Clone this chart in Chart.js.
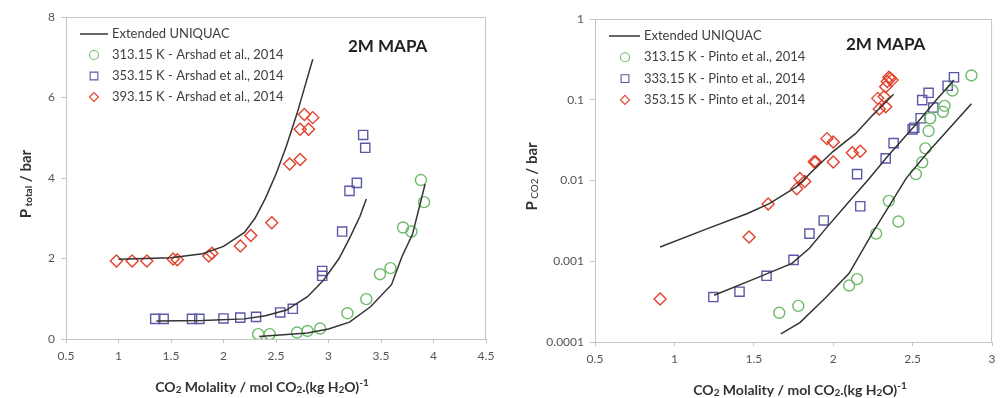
<!DOCTYPE html>
<html>
<head>
<meta charset="utf-8">
<script src="https://cdn.jsdelivr.net/npm/chart.js@4.4.0/dist/chart.umd.min.js"></script>
<style>
  html, body { margin: 0; padding: 0; background: #fff; }
  #wrap { display: flex; width: 1000px; height: 398px; }
  .box { width: 500px; height: 398px; }
</style>
</head>
<body>
<div id="wrap">
  <div class="box"><canvas id="left" width="500" height="398"></canvas></div>
  <div class="box"><canvas id="right" width="500" height="398"></canvas></div>
</div>
<script>
// ---- left panel: total pressure (Arshad et al., 2014) ----
const arshad313x = [2.33, 2.44, 2.70, 2.80, 2.92, 3.18, 3.36, 3.49, 3.59, 3.71, 3.79, 3.91, 3.88];
const arshad313p = [0.12, 0.12, 0.16, 0.20, 0.26, 0.64, 0.99, 1.61, 1.76, 2.77, 2.67, 3.40, 3.95];
const arshad353x = [1.35, 1.43, 1.70, 1.77, 2.00, 2.16, 2.31, 2.54, 2.66, 2.94, 2.94, 3.13, 3.20, 3.27, 3.33, 3.35];
const arshad353p = [0.50, 0.50, 0.50, 0.50, 0.51, 0.53, 0.55, 0.66, 0.75, 1.57, 1.69, 2.67, 3.68, 3.88, 5.07, 4.75];
const arshad393x = [0.98, 1.13, 1.27, 1.52, 1.56, 1.86, 1.89, 2.16, 2.26, 2.46, 2.63, 2.73, 2.73, 2.81, 2.77, 2.85];
const arshad393p = [1.94, 1.94, 1.94, 1.99, 1.97, 2.06, 2.13, 2.31, 2.57, 2.89, 4.35, 4.46, 5.21, 5.21, 5.58, 5.50];

const uniqTot313x = [2.34, 2.8, 3.0, 3.2, 3.4, 3.6, 3.7, 3.8, 3.92];
const uniqTot313p = [0.06, 0.15, 0.25, 0.42, 0.8, 1.35, 2.05, 2.6, 3.85];
const uniqTot353x = [1.36, 1.8, 2.2, 2.4, 2.6, 2.8, 2.95, 3.1, 3.2, 3.3, 3.36];
const uniqTot353p = [0.45, 0.46, 0.5, 0.58, 0.72, 1.05, 1.45, 2.0, 2.5, 3.05, 3.48];
const uniqTot393x = [1.0, 1.5, 1.8, 2.0, 2.2, 2.3, 2.4, 2.5, 2.6, 2.7, 2.8, 2.85];
const uniqTot393p = [1.98, 2.02, 2.12, 2.3, 2.65, 3.0, 3.5, 4.1, 4.8, 5.6, 6.5, 6.95];

// ---- right panel: CO2 partial pressure (Pinto et al., 2014) ----
const pinto313x = [1.66, 1.78, 2.10, 2.15, 2.27, 2.35, 2.41, 2.52, 2.56, 2.58, 2.60, 2.61, 2.69, 2.70, 2.75, 2.87];
const pinto313p = [0.00023, 0.00028, 0.0005, 0.0006, 0.0022, 0.0056, 0.0031, 0.012, 0.0168, 0.025, 0.041, 0.059, 0.071, 0.084, 0.13, 0.20];
const pinto333x = [1.245, 1.41, 1.58, 1.75, 1.85, 1.94, 2.17, 2.15, 2.33, 2.38, 2.50, 2.51, 2.55, 2.56, 2.60, 2.63, 2.72, 2.76];
const pinto333p = [0.00036, 0.00042, 0.00066, 0.00104, 0.0022, 0.0032, 0.0048, 0.012, 0.0188, 0.029, 0.043, 0.045, 0.059, 0.099, 0.122, 0.080, 0.149, 0.19];
const pinto353x = [0.91, 1.47, 1.59, 1.77, 1.79, 1.82, 1.88, 1.89, 1.96, 2.0, 2.0, 2.12, 2.17, 2.29, 2.33, 2.28, 2.32, 2.33, 2.34, 2.36, 2.37, 2.35];
const pinto353p = [0.00034, 0.0020, 0.0051, 0.0079, 0.0106, 0.0097, 0.0171, 0.017, 0.033, 0.030, 0.017, 0.022, 0.023, 0.077, 0.082, 0.104, 0.11, 0.145, 0.168, 0.184, 0.175, 0.19];

const uniqCo2313x = [1.67, 1.79, 1.95, 2.1, 2.25, 2.46, 2.59, 2.87];
const uniqCo2313p = [0.000126, 0.000174, 0.00035, 0.00071, 0.0023, 0.0107, 0.0218, 0.089];
const uniqCo2333x = [1.25, 1.5, 1.74, 1.85, 1.95, 2.1, 2.22, 2.34, 2.51, 2.65, 2.76];
const uniqCo2333p = [0.00038, 0.0006, 0.00094, 0.00145, 0.0025, 0.0055, 0.0102, 0.0197, 0.047, 0.1, 0.176];
const uniqCo2353x = [0.91, 1.2, 1.46, 1.6, 1.77, 1.9, 2.0, 2.14, 2.25, 2.38];
const uniqCo2353p = [0.0015, 0.0025, 0.0039, 0.0052, 0.0084, 0.015, 0.023, 0.038, 0.065, 0.117];

const leftXTicks = [0.5, 1, 1.5, 2, 2.5, 3, 3.5, 4, 4.5];
const leftYTicks = [0, 2, 4, 6, 8];
const rightXTicks = [0.5, 1, 1.5, 2, 2.5, 3];
const rightYTicks = [0.0001, 0.001, 0.01, 0.1, 1];

const leftLabels = ["313.15 K - Arshad et al., 2014", "353.15 K - Arshad et al., 2014", "393.15 K - Arshad et al., 2014"];
const rightLabels = ["313.15 K - Pinto et al., 2014", "333.15 K - Pinto et al., 2014", "353.15 K - Pinto et al., 2014"];

const GREEN = "#6dbb6a";
const BLUE = "#5c5aa6";
const RED = "#e4402c";
const LINE = "#333333";
const AXIS = "#c4c4c4";
const FONT = "Lato, 'Open Sans', sans-serif";

const pts = (xs, ys) => xs.map((x, i) => ({ x: x, y: ys[i] }));

const marker = (label, xs, ys, color, style, radius) => ({
  label: label,
  data: pts(xs, ys),
  pointStyle: style,
  pointRadius: radius,
  pointBorderColor: color,
  pointBackgroundColor: "rgba(0,0,0,0)",
  pointBorderWidth: 1.4,
  showLine: false,
  order: 1,
});

const model = (xs, ys) => ({
  label: "Extended UNIQUAC",
  data: pts(xs, ys),
  showLine: true,
  borderColor: LINE,
  borderWidth: 1.5,
  pointRadius: 0,
  tension: 0,
  order: 0,
});

// draws a list of text runs (size, bold, dy) centred on (0,0)
function drawRuns(ctx, runs) {
  let total = 0;
  runs.forEach((r) => {
    ctx.font = (r.bold ? "bold " : "") + r.size + "px " + FONT;
    r.w = ctx.measureText(r.t).width;
    total += r.w;
  });
  let x = -total / 2;
  ctx.textBaseline = "middle";
  ctx.textAlign = "left";
  runs.forEach((r) => {
    ctx.font = (r.bold ? "bold " : "") + r.size + "px " + FONT;
    ctx.fillText(r.t, x, r.dy || 0);
    x += r.w;
  });
}

const xTitleRuns = () => [
  { t: "CO", size: 14, bold: true },
  { t: "2", size: 10, bold: true, dy: 3 },
  { t: " Molality / mol CO", size: 14, bold: true },
  { t: "2", size: 10, bold: true, dy: 3 },
  { t: ".(kg H", size: 14, bold: true },
  { t: "2", size: 10, bold: true, dy: 3 },
  { t: "O)", size: 14, bold: true },
  { t: "-1", size: 10, bold: true, dy: -4 },
];

const decor = {
  id: "decor",
  beforeDatasetsDraw(chart) {
    const ctx = chart.ctx, a = chart.chartArea;
    ctx.save();
    ctx.strokeStyle = AXIS;
    ctx.lineWidth = 1;
    ctx.strokeRect(a.left + 0.5, a.top + 0.5, a.right - a.left - 1, a.bottom - a.top);
    ctx.restore();
  },
  afterDraw(chart, args, o) {
    const ctx = chart.ctx, a = chart.chartArea;
    ctx.save();

    // legend
    const lx = a.left + o.legendDx, ly = a.top + o.legendDy;
    ctx.strokeStyle = LINE;
    ctx.lineWidth = 1.5;
    ctx.beginPath();
    ctx.moveTo(lx, ly);
    ctx.lineTo(lx + o.lineLen, ly);
    ctx.stroke();
    ctx.font = "13px " + FONT;
    ctx.textBaseline = "middle";
    ctx.textAlign = "left";
    ctx.fillStyle = "#404040";
    ctx.fillText("Extended UNIQUAC", lx + o.lineLen + 4, ly);
    const marks = [[GREEN, "circle", 4.5], [BLUE, "rect", 5.5], [RED, "rectRot", 4.5]];
    o.labels.forEach((lab, i) => {
      const y = ly + (i + 1) * o.rowGap;
      ctx.save();
      ctx.strokeStyle = marks[i][0];
      ctx.fillStyle = "rgba(0,0,0,0)";
      ctx.lineWidth = 1.1;
      Chart.helpers.drawPoint(ctx, { pointStyle: marks[i][1], radius: marks[i][2], borderWidth: 1.1, rotation: 0 }, lx + o.markDx, y);
      ctx.restore();
      ctx.fillText(lab, lx + o.lineLen + 4, y);
    });

    // panel tag
    ctx.font = "bold 17px " + FONT;
    ctx.fillStyle = "#222";
    ctx.textAlign = "left";
    ctx.fillText("2M MAPA", o.tagX, o.tagY);

    // x title
    ctx.save();
    ctx.fillStyle = "#333";
    ctx.translate(o.xTitleX, o.xTitleY);
    drawRuns(ctx, xTitleRuns());
    ctx.restore();

    // y title
    ctx.save();
    ctx.fillStyle = "#333";
    ctx.translate(o.yTitleX, (a.top + a.bottom) / 2 + o.yTitleDy);
    ctx.rotate(-Math.PI / 2);
    drawRuns(ctx, o.yRuns);
    ctx.restore();

    ctx.restore();
  },
};

const tickFont = { family: FONT, size: 12 };

function makeChart(id, cfg) {
  return new Chart(document.getElementById(id), {
    type: "scatter",
    data: { datasets: cfg.datasets },
    options: {
      responsive: false,
      animation: false,
      devicePixelRatio: 1,
      layout: { padding: cfg.padding },
      plugins: { legend: { display: false }, tooltip: { enabled: false }, decor: cfg.decor },
      scales: {
        x: {
          type: "linear",
          min: cfg.xTicks[0],
          max: cfg.xTicks[cfg.xTicks.length - 1],
          afterBuildTicks: (s) => { s.ticks = cfg.xTicks.map((v) => ({ value: v })); },
          afterFit: (s) => { s.height = cfg.xHeight; s.paddingLeft = 0; s.paddingRight = 0; },
          ticks: { color: "#555", font: tickFont, padding: 6, maxRotation: 0, autoSkip: false, callback: (v) => String(v) },
          grid: { drawOnChartArea: false, color: AXIS, tickLength: 4 },
          border: { color: AXIS },
        },
        y: {
          type: cfg.yType,
          min: cfg.yTicks[0],
          max: cfg.yTicks[cfg.yTicks.length - 1],
          afterBuildTicks: (s) => { s.ticks = cfg.yTicks.map((v) => ({ value: v })); },
          afterFit: (s) => { s.width = cfg.yWidth; s.paddingTop = 0; s.paddingBottom = 0; },
          ticks: { color: "#555", font: tickFont, padding: 6, autoSkip: false, callback: (v) => String(v) },
          grid: { drawOnChartArea: false, color: AXIS, tickLength: 5 },
          border: { color: AXIS },
        },
      },
    },
    plugins: [decor],
  });
}

makeChart("left", {
  datasets: [
    model(uniqTot313x, uniqTot313p),
    model(uniqTot353x, uniqTot353p),
    model(uniqTot393x, uniqTot393p),
    marker(leftLabels[0], arshad313x, arshad313p, GREEN, "circle", 5.5),
    marker(leftLabels[1], arshad353x, arshad353p, BLUE, "rect", 6.5),
    marker(leftLabels[2], arshad393x, arshad393p, RED, "rectRot", 6),
  ],
  padding: { top: 17, right: 14, bottom: 0, left: 0 },
  xTicks: leftXTicks,
  yTicks: leftYTicks,
  yType: "linear",
  xHeight: 59,
  yWidth: 66,
  decor: {
    legendDx: 14, legendDy: 17, lineLen: 28, markDx: 14, rowGap: 21,
    labels: leftLabels,
    tagX: 348, tagY: 47,
    xTitleX: 262, xTitleY: 387,
    yTitleX: 26, yTitleDy: 6,
    yRuns: [
      { t: "P", size: 15, bold: true },
      { t: " total", size: 10, bold: true, dy: 3 },
      { t: " / bar", size: 15, bold: true },
    ],
  },
});

makeChart("right", {
  datasets: [
    model(uniqCo2313x, uniqCo2313p),
    model(uniqCo2333x, uniqCo2333p),
    model(uniqCo2353x, uniqCo2353p),
    marker(rightLabels[0], pinto313x, pinto313p, GREEN, "circle", 5.5),
    marker(rightLabels[1], pinto333x, pinto333p, BLUE, "rect", 6.5),
    marker(rightLabels[2], pinto353x, pinto353p, RED, "rectRot", 6),
  ],
  padding: { top: 19, right: 0, bottom: 0, left: 0 },
  xTicks: rightXTicks,
  yTicks: rightYTicks,
  yType: "logarithmic",
  xHeight: 56,
  yWidth: 95,
  decor: {
    legendDx: 14, legendDy: 17, lineLen: 31, markDx: 16, rowGap: 21.3,
    labels: rightLabels,
    tagX: 346, tagY: 45,
    xTitleX: 300, xTitleY: 390,
    yTitleX: 32, yTitleDy: -4,
    yRuns: [
      { t: "P", size: 15, bold: true },
      { t: " CO2", size: 10, bold: false, dy: 3 },
      { t: " / bar", size: 15, bold: true },
    ],
  },
});
</script>
</body>
</html>
